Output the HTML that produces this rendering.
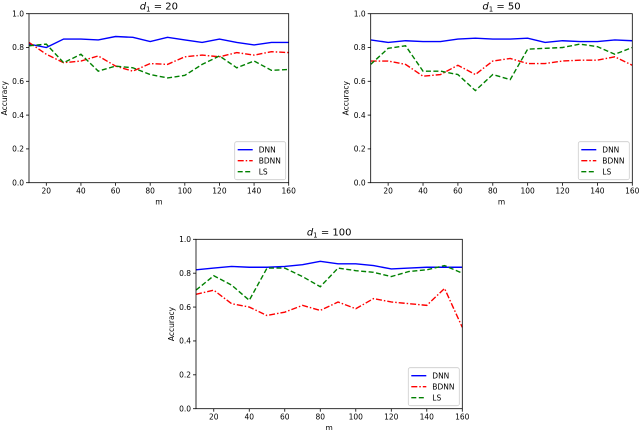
<!DOCTYPE html>
<html><head><meta charset="utf-8"><style>
body{margin:0;background:#fff;width:640px;height:430px;overflow:hidden}
svg{font-family:"DejaVu Sans","Liberation Sans",sans-serif}
</style></head><body>
<svg id="c" width="640" height="430"></svg>
<script>
const mValues=[10,20,30,40,50,60,70,80,90,100,110,120,130,140,150,160];
const xTicks=[20,40,60,80,100,120,140,160];
const yTicks=[0.0,0.2,0.4,0.6,0.8,1.0];
const titles=["20","50","100"];
const dnn20=[.82,.80,.85,.85,.845,.865,.86,.835,.86,.845,.83,.85,.83,.815,.83,.83];
const bdnn20=[.83,.76,.71,.72,.75,.69,.66,.705,.70,.745,.755,.745,.77,.755,.775,.77];
const ls20=[.81,.82,.71,.76,.66,.69,.68,.64,.62,.635,.70,.75,.68,.72,.665,.67];
const dnn50=[.845,.83,.84,.835,.835,.85,.855,.85,.85,.855,.83,.84,.835,.835,.845,.84];
const bdnn50=[.72,.72,.70,.63,.64,.695,.64,.72,.735,.705,.705,.72,.725,.725,.745,.695];
const ls50=[.70,.795,.81,.66,.66,.64,.545,.64,.61,.79,.795,.80,.82,.805,.76,.80];
const dnn100=[.82,.83,.84,.835,.835,.84,.85,.87,.855,.855,.845,.825,.83,.835,.835,.835];
const bdnn100=[.675,.70,.62,.60,.55,.57,.61,.58,.63,.59,.65,.63,.62,.61,.71,.48];
const ls100=[.70,.785,.73,.64,.83,.83,.78,.72,.83,.815,.805,.78,.81,.82,.845,.80];
const seriesNames=["DNN","BDNN","LS"];
const panels=[
 {x0:29,x1:288.7,y0:13.7,y1:182.7,data:[dnn20,bdnn20,ls20],name:"d20"},
 {x0:370.7,x1:632.3,y0:13.7,y1:182.7,data:[dnn50,bdnn50,ls50],name:"d50"},
 {x0:196,x1:462.3,y0:239.3,y1:408.7,data:[dnn100,bdnn100,ls100],name:"d100"}];
const styles=[{c:"#0000ff",d:""},{c:"#ff0000",d:"6,2,1.5,2"},{c:"#008000",d:"5,2.5"}];
const NS="http://www.w3.org/2000/svg";
const svg=document.getElementById('c');
function mk(t,a,p){const e=document.createElementNS(NS,t);for(const k in a)e.setAttribute(k,a[k]);(p||svg).appendChild(e);return e;}
panels.forEach((P,pi)=>{
 const g=mk('g',{});
 
 
 const sx=v=>P.x0+(v-10)/(150)*(P.x1-P.x0);
 const sy=v=>P.y1-v*(P.y1-P.y0);
 P.data.forEach((arr,si)=>{
  const pts=arr.map((v,i)=>sx(mValues[i]).toFixed(2)+','+sy(v).toFixed(2)).join(' ');
  const l=mk('polyline',{points:pts,fill:'none',stroke:styles[si].c,'stroke-width':1.4,'stroke-dasharray':styles[si].d},g);
  
  
 });
 mk('rect',{x:P.x0,y:P.y0,width:P.x1-P.x0,height:P.y1-P.y0,fill:'none',stroke:'#000','stroke-width':0.8},g);
 xTicks.forEach(t=>{const x=sx(t);mk('line',{x1:x,x2:x,y1:P.y1,y2:P.y1+3,stroke:'#000','stroke-width':0.8},g);
  const tx=mk('text',{x:x,y:P.y1+11,'font-size':7.5,'text-anchor':'middle'},g);tx.textContent=t;
  });
 yTicks.forEach(t=>{const y=sy(t);mk('line',{x1:P.x0-3,x2:P.x0,y1:y,y2:y,stroke:'#000','stroke-width':0.8},g);
  const tx=mk('text',{x:P.x0-5,y:y+2.7,'font-size':7.5,'text-anchor':'end'},g);tx.textContent=t.toFixed(1);
  });
 const xl=mk('text',{x:(P.x0+P.x1)/2,y:P.y1+22,'font-size':7.5,'text-anchor':'middle'},g);xl.textContent='m';
 
 const yl=mk('text',{x:0,y:0,'font-size':7.5,'text-anchor':'middle',transform:`translate(${P.x0-22},${(P.y0+P.y1)/2}) rotate(-90)`},g);yl.textContent='Accuracy';
 
 const ti=mk('text',{x:(P.x0+P.x1)/2,y:P.y0-4,'font-size':10,'text-anchor':'middle'},g);
 ti.innerHTML='<tspan font-style="italic">d</tspan><tspan font-size="7" dy="2">1</tspan><tspan dy="-2"> = '+titles[pi]+'</tspan>';
 
 const lx=P.x1-54,ly=P.y1-41;
 const lg=mk('g',{},g);
 
 mk('rect',{x:lx,y:ly,width:51,height:38,rx:2,fill:'#fff',stroke:'#ccc','stroke-width':0.8},lg);
 seriesNames.forEach((n,si)=>{const y=ly+8+si*11;
  mk('line',{x1:lx+3,x2:lx+18,y1:y,y2:y,stroke:styles[si].c,'stroke-width':1.4,'stroke-dasharray':styles[si].d},lg);
  const t=mk('text',{x:lx+24,y:y+2.7,'font-size':7.5},lg);t.textContent=n;
  });
});
</script></body></html>
